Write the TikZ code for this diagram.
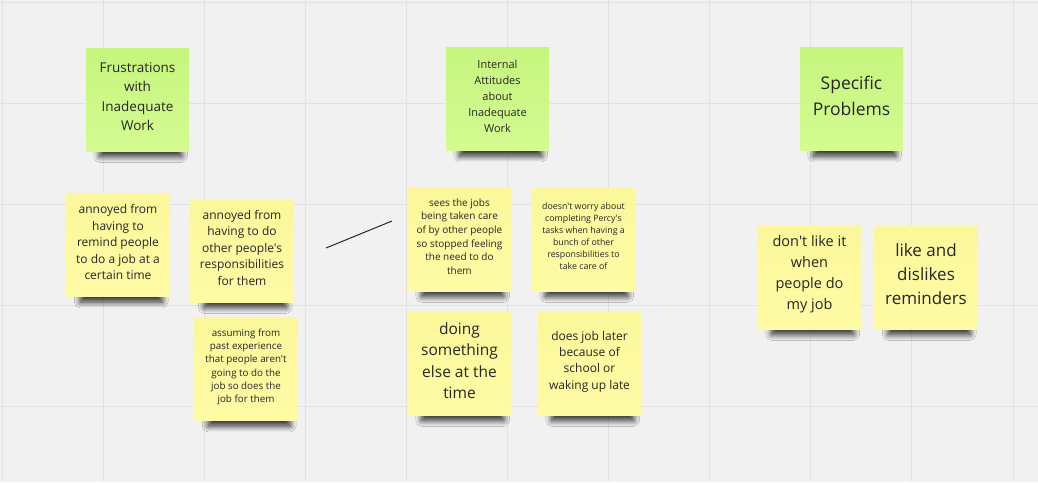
\documentclass[tikz,border=0pt]{standalone}
\usepackage{fontspec}
\setmainfont{Open Sans}[Ligatures=TeXOff]
\usetikzlibrary{shadows.blur}
\definecolor{bg}{HTML}{F1F1F1}
\definecolor{gridc}{HTML}{E2E2E2}
\definecolor{greenT}{HTML}{C6F57D}
\definecolor{greenB}{HTML}{D4FB92}
\definecolor{yelT}{HTML}{FBF79A}
\definecolor{yelB}{HTML}{FEFBA6}
\definecolor{ink}{HTML}{262626}
\tikzset{
  note/.style={minimum width=103pt, minimum height=103pt, inner sep=0pt,
    blur shadow={shadow xshift=4pt, shadow yshift=-20pt, shadow scale=0.8, shadow blur radius=7pt, shadow blur steps=14, shadow opacity=80}},
  gnote/.style={note, top color=greenT, bottom color=greenB},
  ynote/.style={note, top color=yelT, bottom color=yelB},
  txt/.style={inner sep=0pt, align=center, text=ink},
}
\begin{document}
\begin{tikzpicture}[x=1pt,y=-1pt]
\fill[bg] (0,0) rectangle (1038,482);
\useasboundingbox (0,0) rectangle (1038,482);
\foreach \i in {0,...,10} \draw[gridc, line width=1pt] ({2+101.1*\i},0) -- ({2+101.1*\i},482);
\foreach \j in {0,...,4} \draw[gridc, line width=1pt] (0,{2.7+101*\j}) -- (1038,{2.7+101*\j});

\node[gnote] (g1) at (137.5,99.5) {};
\node[txt, font=\fontsize{13.5}{19.5}\selectfont] (g1t) at ([yshift=3pt]g1.center) {Frustrations\\with\\Inadequate\\Work};
\node[gnote] (g2) at (497.5,99) {};
\node[txt, font=\fontsize{11}{16}\selectfont] (g2t) at ([yshift=3pt]g2.center) {Internal\\Attitudes\\about\\Inadequate\\Work};
\node[gnote] (g3) at (851.5,99) {};
\node[txt, font=\fontsize{17.5}{25.5}\selectfont] (g3t) at ([yshift=3pt]g3.center) {Specific\\Problems};

\node[ynote] (y1) at (118,245) {};
\node[txt, font=\fontsize{12}{16.5}\selectfont] (y1t) at ([yshift=3pt]y1.center) {annoyed from\\having to\\remind people\\to do a job at a\\certain time};
\node[ynote] (y2) at (242,250.5) {};
\node[txt, font=\fontsize{12}{16.5}\selectfont] (y2t) at ([yshift=3pt]y2.center) {annoyed from\\having to do\\other people's\\responsibilities\\for them};
\node[ynote] (y3) at (246,369) {};
\node[txt, font=\fontsize{9.8}{13.3}\selectfont] (y3t) at ([yshift=2pt]y3.center) {assuming from\\past experience\\that people aren't\\going to do the\\job so does the\\job for them};
\node[ynote] (y4) at (459.5,239.5) {};
\node[txt, font=\fontsize{10}{13.6}\selectfont] (y4t) at ([yshift=3pt]y4.center) {sees the jobs\\being taken care\\of by other people\\so stopped feeling\\the need to do\\them};
\node[ynote] (y5) at (583.5,239.5) {};
\node[txt, font=\fontsize{8.8}{12}\selectfont] (y5t) at ([yshift=3pt]y5.center) {doesn't worry about\\completing Percy's\\tasks when having a\\bunch of other\\responsibilities to\\take care of};
\node[ynote] (y6) at (459.5,363.5) {};
\node[txt, font=\fontsize{15.5}{21.5}\selectfont] (y6t) at ([yshift=3pt]y6.center) {doing\\something\\else at the\\time};
\node[ynote] (y7) at (589.5,363.5) {};
\node[txt, font=\fontsize{12}{16.3}\selectfont] (y7t) at ([yshift=2pt]y7.center) {does job later\\because of\\school or\\waking up late};
\node[ynote] (y8) at (809.5,277.5) {};
\node[txt, font=\fontsize{14.5}{21}\selectfont] (y8t) at ([yshift=3pt]y8.center) {don't like it\\when\\people do\\my job};
\node[ynote] (y9) at (926,277.5) {};
\node[txt, font=\fontsize{17}{24}\selectfont] (y9t) at ([yshift=3pt]y9.center) {like and\\dislikes\\reminders};

\coordinate (la) at (326,248);
\coordinate (lb) at (392,221);
\draw[ink, line width=1pt] (la) -- (lb);
\end{tikzpicture}
\end{document}
